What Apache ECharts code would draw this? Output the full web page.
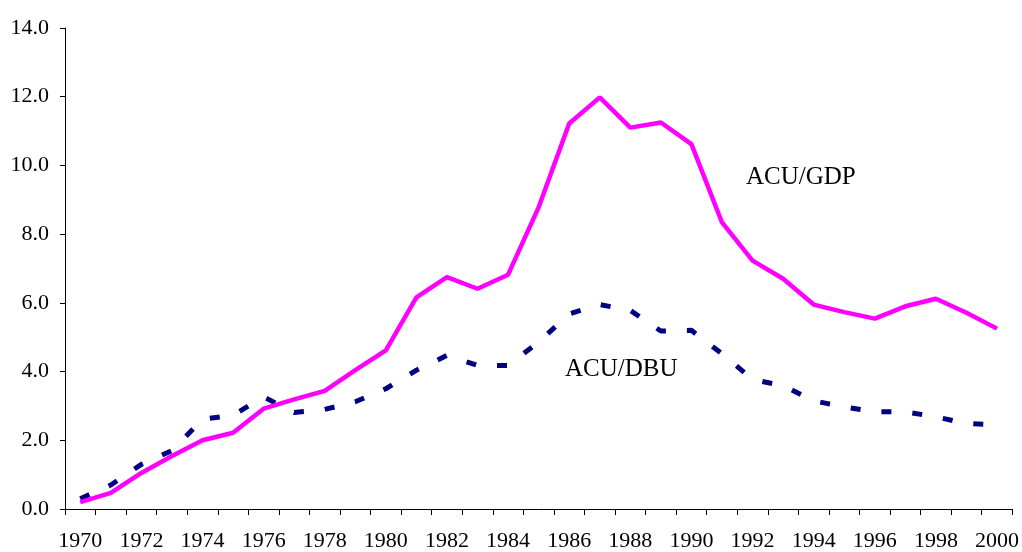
<!DOCTYPE html>
<html>
<head>
<meta charset="utf-8">
<script src="https://cdn.jsdelivr.net/npm/echarts@6/dist/echarts.min.js"></script>
<style>
html,body{margin:0;padding:0;background:#fff;}
#chart{width:1022px;height:552px;}
</style>
</head>
<body>
<div id="chart"></div>
<script>
const years = ['1970','1971','1972','1973','1974','1975','1976','1977','1978','1979','1980','1981','1982','1983','1984','1985','1986','1987','1988','1989','1990','1991','1992','1993','1994','1995','1996','1997','1998','1999','2000'];
const acuGdp = [0.20,0.47,1.05,1.54,2.00,2.22,2.92,3.19,3.44,4.04,4.62,6.16,6.75,6.41,6.82,8.78,11.22,11.98,11.10,11.25,10.62,8.34,7.23,6.70,5.95,5.73,5.54,5.90,6.12,5.71,5.25];
const acuDbu = [0.30,0.70,1.30,1.70,2.61,2.73,3.26,2.81,2.90,3.12,3.50,4.04,4.47,4.18,4.18,4.86,5.68,5.95,5.78,5.18,5.20,4.52,3.77,3.59,3.15,2.97,2.83,2.83,2.68,2.49,2.45];
const yTicks = {min: 0, max: 14, interval: 2};
const labelGdp = 'ACU/GDP';
const labelDbu = 'ACU/DBU';

const FONT = 'Liberation Serif';
const chart = echarts.init(document.getElementById('chart'));
chart.setOption({
  animation: false,
  backgroundColor: '#ffffff',
  grid: {left: 65, right: 9, top: 28, bottom: 43},
  xAxis: {
    type: 'category',
    data: years,
    boundaryGap: true,
    axisLine: {lineStyle: {color: '#000', width: 1}},
    axisTick: {show: true, interval: 0, length: 6, lineStyle: {color: '#000'}},
    axisLabel: {interval: 1, color: '#000', fontFamily: FONT, fontSize: 22, margin: 21},
    splitLine: {show: false}
  },
  yAxis: {
    type: 'value',
    min: yTicks.min, max: yTicks.max, interval: yTicks.interval,
    axisLine: {show: true, lineStyle: {color: '#000', width: 1}},
    axisTick: {show: true, length: 5, lineStyle: {color: '#000'}},
    axisLabel: {color: '#000', fontFamily: FONT, fontSize: 22, margin: 16,
      formatter: v => v.toFixed(1)},
    splitLine: {show: false}
  },
  series: [
    {
      name: labelDbu, type: 'line', data: acuDbu, symbol: 'none',
      lineStyle: {color: '#000080', width: 5, type: [10, 21]}
    },
    {
      name: labelGdp, type: 'line', data: acuGdp, symbol: 'none',
      lineStyle: {color: '#FF00FF', width: 4.5}
    }
  ],
  graphic: [
    {type: 'text', left: 746, top: 165, style: {text: labelGdp, fill: '#000', font: '25px "Liberation Serif"'}},
    {type: 'text', left: 565, top: 357, style: {text: labelDbu, fill: '#000', font: '25px "Liberation Serif"'}}
  ]
});
</script>
</body>
</html>
